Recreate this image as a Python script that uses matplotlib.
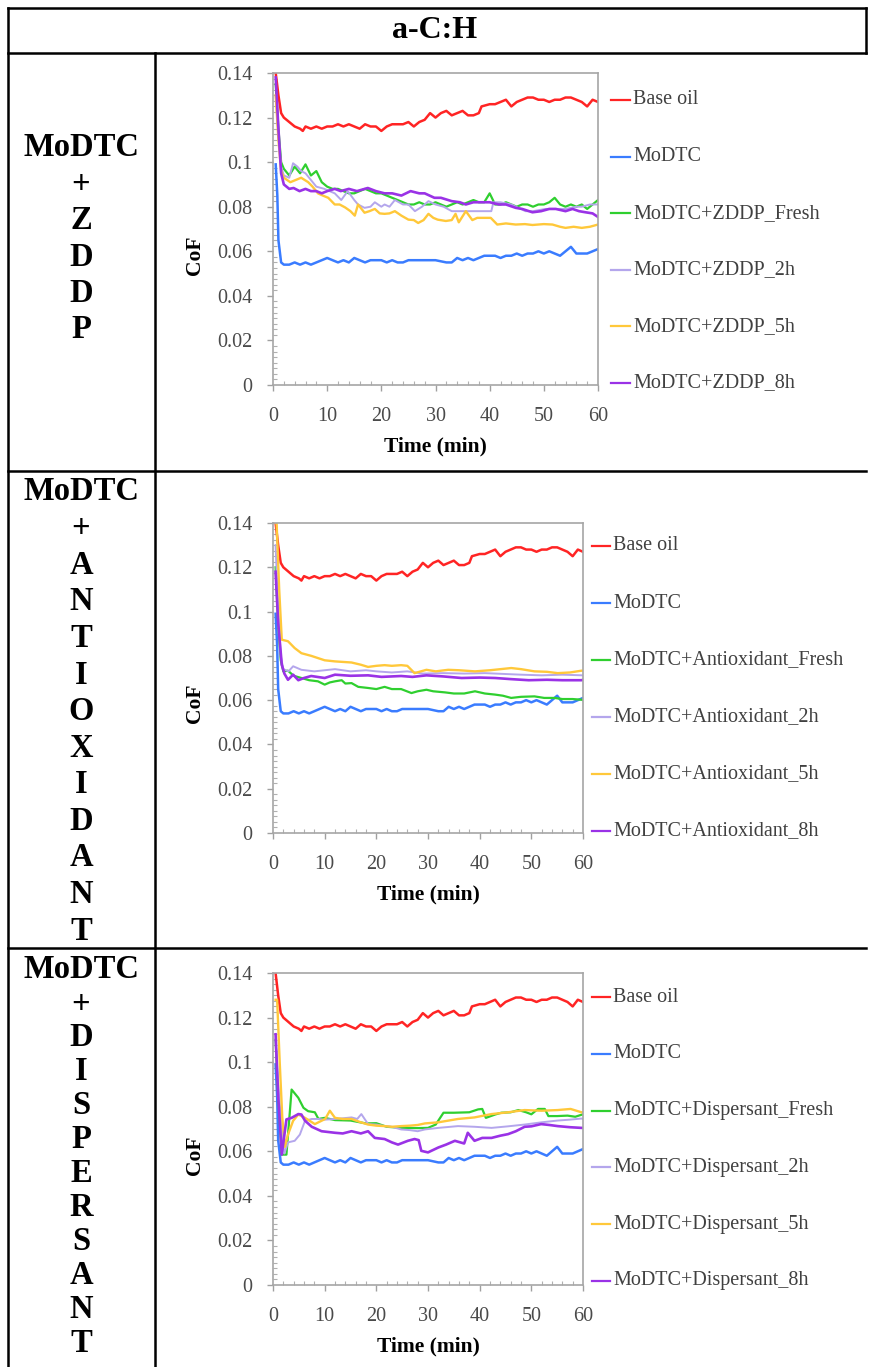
import numpy as np
import matplotlib
matplotlib.use("Agg")
import matplotlib.pyplot as plt
from matplotlib.lines import Line2D
from matplotlib.ticker import MultipleLocator

plt.rcParams["font.family"] = ["Liberation Serif", "DejaVu Serif"]

W, H = 869, 1367

# ---------- data ----------
# shared curves: base oil and MoDTC are identical in all three panels
BASE_T = [0.5, 1, 1.5, 2, 3, 4, 5, 5.5, 6, 7, 8, 9, 10, 11, 12, 13, 14, 15, 16, 17,
          18, 19, 20, 21, 22, 23, 24, 25, 26, 27, 28, 29, 30, 31, 32, 33, 34, 35, 36,
          37, 38, 38.5, 40, 41, 42, 43, 44, 45, 46, 47, 48, 49, 50, 51, 52, 53, 54,
          55, 56, 57, 58, 59, 60]
BASE_COF = [0.140, 0.130, 0.122, 0.120, 0.118, 0.116, 0.115, 0.114, 0.116, 0.115,
            0.116, 0.115, 0.116, 0.116, 0.117, 0.116, 0.117, 0.116, 0.115, 0.117,
            0.116, 0.116, 0.114, 0.116, 0.117, 0.117, 0.117, 0.118, 0.116, 0.118,
            0.119, 0.122, 0.120, 0.122, 0.123, 0.121, 0.122, 0.123, 0.121, 0.121,
            0.122, 0.125, 0.126, 0.126, 0.127, 0.128, 0.125, 0.127, 0.128, 0.129,
            0.129, 0.128, 0.128, 0.127, 0.128, 0.128, 0.129, 0.129, 0.128, 0.127,
            0.125, 0.128, 0.127]

MODTC_T = [0.5, 0.8, 1, 1.5, 2, 3, 4, 5, 6, 7, 8, 9, 10, 11, 12, 13, 14, 15, 16, 17,
           18, 19, 20, 21, 22, 23, 24, 25, 26, 28, 30, 32, 33, 34, 35, 36, 37, 38, 39,
           40, 41, 42, 43, 44, 45, 46, 47, 48, 49, 50, 51, 52, 53, 54, 55, 56, 57, 58,
           59, 60]
MODTC_COF = [0.099, 0.085, 0.065, 0.055, 0.054, 0.054, 0.055, 0.054, 0.055, 0.054,
             0.055, 0.056, 0.057, 0.056, 0.055, 0.056, 0.055, 0.057, 0.056, 0.055,
             0.056, 0.056, 0.056, 0.055, 0.056, 0.055, 0.055, 0.056, 0.056, 0.056,
             0.056, 0.055, 0.055, 0.057, 0.056, 0.057, 0.056, 0.057, 0.058, 0.058,
             0.058, 0.057, 0.058, 0.058, 0.059, 0.058, 0.059, 0.059, 0.060, 0.059,
             0.060, 0.059, 0.058, 0.060, 0.062, 0.059, 0.059, 0.059, 0.060, 0.061]

# panel 1: MoDTC + ZDDP
ZDDP_FRESH_T = [0.5, 1, 1.5, 2, 3, 4, 5, 6, 7, 8, 9, 10, 11, 12, 13, 14, 15, 16, 17,
                18, 19, 20, 21, 22, 23, 24, 25, 26, 27, 28, 29, 30, 31, 32, 33, 34, 35,
                36, 37, 38, 39, 40, 41, 42, 43, 44, 45, 46, 47, 48, 49, 50, 51, 52, 53,
                54, 55, 56, 57, 58, 59, 60]
ZDDP_FRESH_COF = [0.135, 0.115, 0.100, 0.097, 0.094, 0.098, 0.095, 0.099, 0.094, 0.096,
                  0.091, 0.089, 0.088, 0.088, 0.087, 0.086, 0.086, 0.087, 0.088, 0.087,
                  0.086, 0.086, 0.085, 0.084, 0.083, 0.082, 0.081, 0.081, 0.082, 0.081,
                  0.081, 0.082, 0.081, 0.080, 0.081, 0.082, 0.081, 0.082, 0.083, 0.082,
                  0.082, 0.086, 0.081, 0.081, 0.082, 0.081, 0.080, 0.081, 0.081, 0.080,
                  0.081, 0.081, 0.082, 0.084, 0.081, 0.080, 0.081, 0.080, 0.081, 0.079,
                  0.081, 0.083]
ZDDP_2H_T = [0.5, 1, 1.5, 2, 3, 3.7, 4.5, 5.2, 6, 7, 8, 9.5, 11.4, 12.6, 13.8, 15,
             15.7, 16.9, 18, 18.8, 20, 20.6, 21.5, 22.5, 24, 25, 26.2, 27.5, 28.7, 30,
             31.5, 33, 35, 37, 39, 40.3, 40.7, 42, 44, 46.6, 48, 50.3, 52, 54, 56, 57,
             58.5, 60]
ZDDP_2H_COF = [0.130, 0.112, 0.098, 0.094, 0.093, 0.0995, 0.098, 0.096, 0.095, 0.092,
               0.089, 0.088, 0.086, 0.083, 0.087, 0.083, 0.081, 0.0795, 0.080, 0.082,
               0.080, 0.081, 0.080, 0.083, 0.081, 0.081, 0.078, 0.080, 0.0825, 0.081,
               0.080, 0.078, 0.078, 0.078, 0.078, 0.078, 0.082, 0.082, 0.081, 0.078,
               0.078, 0.079, 0.079, 0.079, 0.080, 0.080, 0.081, 0.081]
ZDDP_5H_T = [0.5, 1, 1.5, 2, 3.2, 4.2, 5.2, 6.5, 7.3, 8.3, 9.2, 10.2, 11.4, 12.3, 13.3,
             14.3, 15.1, 15.7, 16.9, 17.8, 18.8, 19.7, 20.6, 21.5, 22.5, 23.7, 25, 26,
             26.8, 27.8, 28.7, 29.6, 30.4, 31.9, 33, 33.7, 34.3, 35.6, 36.8, 37.7, 38.6,
             40.2, 41.4, 43, 44.8, 46.5, 47.9, 50, 51.6, 53, 54, 55.5, 57, 58.5, 60]
ZDDP_5H_COF = [0.130, 0.110, 0.096, 0.093, 0.091, 0.092, 0.093, 0.091, 0.089, 0.086,
               0.085, 0.084, 0.081, 0.081, 0.0797, 0.078, 0.076, 0.081, 0.0773, 0.078,
               0.079, 0.077, 0.0768, 0.077, 0.078, 0.076, 0.0742, 0.074, 0.0727, 0.074,
               0.0768, 0.075, 0.0742, 0.0736, 0.074, 0.0768, 0.073, 0.078, 0.074, 0.075,
               0.075, 0.075, 0.072, 0.0725, 0.072, 0.0722, 0.0718, 0.0722, 0.072, 0.071,
               0.0705, 0.071, 0.0705, 0.071, 0.072]
ZDDP_8H_T = [0.5, 1, 1.5, 2, 3, 3.8, 4.9, 6, 7, 8, 9, 10, 11.4, 12.5, 14, 15.5, 17.5,
             19, 20.6, 22, 23.7, 25.4, 27, 28, 29.8, 31, 33, 34.5, 35.6, 37, 38.6, 40,
             41.7, 43, 44.8, 46, 47.9, 49.5, 51, 52.2, 54, 55.3, 56.5, 57.7, 59, 60]
ZDDP_8H_COF = [0.138, 0.115, 0.095, 0.090, 0.088, 0.0884, 0.087, 0.088, 0.087, 0.087,
               0.086, 0.087, 0.088, 0.087, 0.088, 0.087, 0.0884, 0.087, 0.086, 0.086,
               0.085, 0.087, 0.086, 0.086, 0.084, 0.084, 0.0825, 0.082, 0.081, 0.082,
               0.082, 0.082, 0.081, 0.081, 0.0795, 0.079, 0.0775, 0.078, 0.079, 0.079,
               0.078, 0.079, 0.078, 0.0775, 0.077, 0.0754]

# panel 2: MoDTC + Antioxidant
AO_FRESH_T = [0.5, 1, 1.5, 2, 2.9, 4, 5.5, 7, 8.7, 10, 11, 12, 13.3, 14, 15.2, 16.5,
              18.4, 20, 21.6, 23, 24.8, 26.8, 28, 29.7, 31, 33.3, 35, 37, 39.1, 41, 43,
              44.5, 46.1, 48, 50.6, 52.5, 54.5, 56, 58, 59.7, 60]
AO_FRESH_COF = [0.120, 0.095, 0.078, 0.073, 0.0733, 0.071, 0.070, 0.069, 0.0685, 0.067,
                0.068, 0.0685, 0.069, 0.0675, 0.0677, 0.066, 0.0655, 0.065, 0.066, 0.065,
                0.065, 0.0632, 0.064, 0.0647, 0.064, 0.0635, 0.063, 0.063, 0.064, 0.063,
                0.0625, 0.062, 0.061, 0.0615, 0.0617, 0.061, 0.061, 0.0605, 0.0605,
                0.0602, 0.060]
AO_2H_T = [0.5, 1, 1.5, 2, 3, 3.9, 5.5, 8, 10, 12, 15, 18, 20, 23, 26, 29, 33, 37, 41,
           45, 48, 52, 56, 60]
AO_2H_COF = [0.130, 0.100, 0.080, 0.074, 0.073, 0.0753, 0.0737, 0.073, 0.0735, 0.074,
             0.073, 0.0735, 0.073, 0.0725, 0.073, 0.072, 0.0722, 0.072, 0.0722, 0.0718,
             0.0715, 0.0712, 0.0715, 0.0712]
AO_5H_T = [0.5, 0.7, 1.2, 1.7, 2.9, 4.2, 5.5, 7.4, 10, 12, 15.2, 17, 18.4, 20, 21.6, 23,
           24.8, 26, 27.4, 29.7, 31.5, 33.9, 36, 39.1, 42, 46.1, 48, 50.6, 53, 55.1,
           57.5, 59.7, 60]
AO_5H_COF = [0.140, 0.140, 0.110, 0.0873, 0.0866, 0.0835, 0.0812, 0.080, 0.078, 0.0775,
             0.077, 0.076, 0.075, 0.0755, 0.0758, 0.0755, 0.0758, 0.0755, 0.0722, 0.0737,
             0.073, 0.0737, 0.0735, 0.073, 0.0735, 0.0745, 0.074, 0.073, 0.0728, 0.0722,
             0.0725, 0.0733, 0.0733]
AO_8H_T = [0.5, 1, 1.7, 2.2, 2.9, 3.9, 4.9, 6, 7.4, 10, 12, 15, 18.4, 21, 24.8, 27,
           29.7, 33, 36.5, 40, 43, 46, 49.5, 53, 56, 59.7, 60]
AO_8H_COF = [0.118, 0.095, 0.076, 0.072, 0.0692, 0.0715, 0.069, 0.070, 0.0709, 0.070,
             0.0715, 0.071, 0.0712, 0.0705, 0.0709, 0.0705, 0.0712, 0.0707, 0.070,
             0.0702, 0.070, 0.0695, 0.069, 0.0692, 0.069, 0.069, 0.0692]

# panel 3: MoDTC + Dispersant
DS_FRESH_T = [0.5, 1, 1.7, 2.6, 3.6, 4.9, 5.9, 6.8, 8.1, 8.8, 10, 12, 15, 18, 20, 22,
              25, 28, 30, 31.5, 33, 35, 38, 39.7, 40.5, 41.2, 43, 44.2, 46, 47.5, 49,
              50, 51.3, 52.6, 53.3, 55, 57, 58.5, 60]
DS_FRESH_COF = [0.110, 0.085, 0.0585, 0.0585, 0.0877, 0.084, 0.0795, 0.078, 0.0775,
                0.0745, 0.075, 0.074, 0.0738, 0.0725, 0.0726, 0.071, 0.0705, 0.0704,
                0.0705, 0.072, 0.0773, 0.0773, 0.0775, 0.0788, 0.079, 0.075, 0.0765,
                0.0773, 0.0775, 0.0785, 0.0775, 0.0766, 0.079, 0.079, 0.0758, 0.0758,
                0.076, 0.0755, 0.0766]
DS_2H_T = [0.5, 1, 1.7, 2.2, 2.9, 4.2, 5.2, 6.2, 7.5, 8.8, 10, 12, 13.5, 15.2, 16.3,
           17.1, 18.4, 20, 21.6, 23, 24.8, 26.5, 28, 29.4, 32, 35.8, 39, 42.3, 45.5,
           48.7, 52, 55.1, 57.5, 59.7, 60]
DS_2H_COF = [0.110, 0.090, 0.070, 0.059, 0.064, 0.0647, 0.0675, 0.0737, 0.0745, 0.0745,
             0.0742, 0.0745, 0.0748, 0.0752, 0.0745, 0.0767, 0.0722, 0.072, 0.0713,
             0.071, 0.0698, 0.0695, 0.069, 0.0698, 0.0705, 0.0713, 0.071, 0.0705,
             0.0712, 0.072, 0.073, 0.0738, 0.0742, 0.0747, 0.0745]
DS_5H_T = [0.5, 0.8, 1.3, 1.8, 2.3, 2.9, 3.9, 4.9, 6.2, 8.1, 10.1, 11, 12, 13.5, 15.2,
           17, 18.4, 20, 21.6, 23, 24.8, 26.5, 28, 29.4, 32, 35.8, 39, 42.3, 45.5, 48.7,
           52, 55.1, 57.6, 59.7, 60]
DS_5H_COF = [0.128, 0.128, 0.100, 0.075, 0.062, 0.0675, 0.0737, 0.0765, 0.075, 0.0722,
             0.0745, 0.0782, 0.075, 0.0745, 0.0745, 0.073, 0.072, 0.0715, 0.0713, 0.071,
             0.0713, 0.0715, 0.0718, 0.0725, 0.073, 0.0745, 0.0752, 0.0767, 0.0775,
             0.0785, 0.0782, 0.0785, 0.079, 0.0775, 0.0775]
DS_8H_T = [0.5, 1, 1.7, 2.6, 3.6, 4.9, 5.5, 6.2, 7.5, 9.4, 12, 13.5, 15.2, 17, 18.4,
           19.7, 21.6, 23, 24.2, 26.1, 27.4, 28.2, 28.7, 30, 32, 33.5, 35.2, 37, 37.7,
           39, 40.5, 42.3, 44, 45.5, 47, 48.7, 50, 51.9, 53.5, 55.1, 57.5, 59.7, 60]
DS_8H_COF = [0.1125, 0.085, 0.0585, 0.0743, 0.075, 0.0767, 0.0765, 0.0737, 0.071, 0.069,
             0.0683, 0.068, 0.069, 0.068, 0.069, 0.066, 0.0655, 0.064, 0.063, 0.0647,
             0.0655, 0.065, 0.0602, 0.0595, 0.0617, 0.063, 0.0647, 0.0635, 0.0683,
             0.0647, 0.066, 0.066, 0.067, 0.0677, 0.069, 0.071, 0.0712, 0.0722, 0.0718,
             0.0713, 0.0708, 0.0705, 0.0705]

COLORS = ["#FF2424", "#3A7CFF", "#2FCF2F", "#B4A6EC", "#FFC83A", "#9A32E6"]
LWS = [1.8, 1.8, 1.6, 1.4, 1.7, 1.9]

PANELS = [
    ("ZDDP", [(ZDDP_FRESH_T, ZDDP_FRESH_COF), (ZDDP_2H_T, ZDDP_2H_COF),
              (ZDDP_5H_T, ZDDP_5H_COF), (ZDDP_8H_T, ZDDP_8H_COF)]),
    ("Antioxidant", [(AO_FRESH_T, AO_FRESH_COF), (AO_2H_T, AO_2H_COF),
                     (AO_5H_T, AO_5H_COF), (AO_8H_T, AO_8H_COF)]),
    ("Dispersant", [(DS_FRESH_T, DS_FRESH_COF), (DS_2H_T, DS_2H_COF),
                    (DS_5H_T, DS_5H_COF), (DS_8H_T, DS_8H_COF)]),
]
ROW_LABELS = [["MoDTC", "+", "Z", "D", "D", "P"],
              ["MoDTC", "+", "A", "N", "T", "I", "O", "X", "I", "D", "A", "N", "T"],
              ["MoDTC", "+", "D", "I", "S", "P", "E", "R", "S", "A", "N", "T"]]

# ---------- layout (pixels) ----------
AX_BOX = [(273, 73, 598, 385), (273, 523, 583, 833), (273, 973, 583, 1285)]
LEG_X = [(611, 630, 633), (592, 610, 613), (592, 610, 613)]
LEG_Y = [(100, 56.6), (546, 57.0), (997, 56.8)]
ROW_TXT = [(148, 36.4), (492, 36.6), (970, 34.0)]


def fx(x):
    return x / W


def fy(y):
    return 1 - y / H


fig = plt.figure(figsize=(W / 100, H / 100), dpi=100)

# table grid
def hline(y, x0, x1, lw=1.8):
    fig.add_artist(Line2D([fx(x0), fx(x1)], [fy(y), fy(y)], color="black", lw=lw))


def vline(x, y0, y1, lw=1.8):
    fig.add_artist(Line2D([fx(x), fx(x)], [fy(y0), fy(y1)], color="black", lw=lw))


hline(8, 8, 866)
hline(53, 8, 866)
hline(471, 8, 866)
hline(948, 8, 866)
vline(8, 8, 1367)
vline(155, 53, 1367)
vline(866, 8, 53)

fig.text(fx(435), fy(30), "a-C:H", ha="center", va="center",
         fontsize=23, fontweight="bold")

for labels, (y0, dy) in zip(ROW_LABELS, ROW_TXT):
    for i, s in enumerate(labels):
        fig.text(fx(81), fy(y0 + i * dy), s, ha="center", va="center",
                 fontsize=23.5, fontweight="bold")

for k, (name, series) in enumerate(PANELS):
    l, t, r, b = AX_BOX[k]
    ax = fig.add_axes([fx(l), fy(b), (r - l) / W, (b - t) / H])
    curves = [(BASE_T, BASE_COF), (MODTC_T, MODTC_COF)] + series
    labels = ["Base oil", "MoDTC"] + [f"MoDTC+{name}_{s}" for s in ("Fresh", "2h", "5h", "8h")]
    for (tt, vv), c, lw in zip(curves, COLORS, LWS):
        ax.plot(tt, vv, color=c, lw=lw)
    ax.set_xlim(0, 60)
    ax.set_ylim(0, 0.14)
    ax.set_xticks([0, 10, 20, 30, 40, 50, 60])
    ax.set_yticks([0, 0.02, 0.04, 0.06, 0.08, 0.1, 0.12, 0.14])
    ax.set_yticklabels(["0", "0.02", "0.04", "0.06", "0.08", "0.1", "0.12", "0.14"])
    ax.xaxis.set_minor_locator(MultipleLocator(2))
    ax.yaxis.set_minor_locator(MultipleLocator(0.0025))
    ax.tick_params(which="major", direction="out", length=4, width=1,
                   color="#A0A0A0", labelsize=14.5, labelcolor="#4A4A4A")
    ax.tick_params(axis="y", which="major", pad=11)
    ax.tick_params(axis="x", which="major", pad=12)
    ax.tick_params(which="minor", direction="in", length=3, width=0.8, color="#B0B0B0")
    for sp in ax.spines.values():
        sp.set_color("#A6A6A6")
        sp.set_linewidth(1.2)
    hh = b - t
    ax.set_xlabel("Time (min)", fontsize=15.5, fontweight="bold", va="center")
    ax.xaxis.set_label_coords(0.5, -61 / hh)
    ax.set_ylabel("CoF", fontsize=15.5, fontweight="bold", va="center")
    ax.yaxis.set_label_coords((195 - l) / (r - l), 130 / hh)

    x0, x1, xt = LEG_X[k]
    ly0, ldy = LEG_Y[k]
    for i, (lab, c) in enumerate(zip(labels, COLORS)):
        yc = ly0 + i * ldy
        fig.add_artist(Line2D([fx(x0), fx(x1)], [fy(yc), fy(yc)], color=c, lw=1.6))
        fig.text(fx(xt), fy(yc), lab, ha="left", va="center",
                 fontsize=14.5, color="#404040")

fig.savefig("out.png", dpi=100)
